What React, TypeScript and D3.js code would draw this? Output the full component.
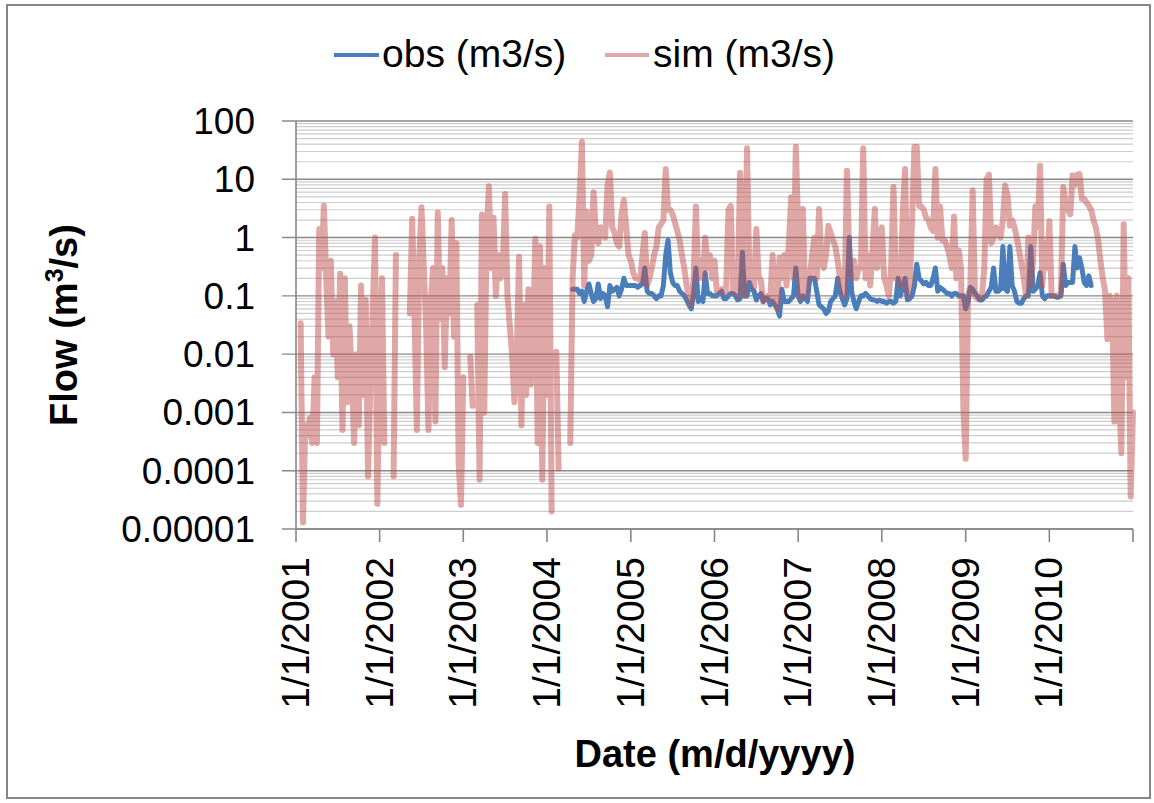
import React from "react";
import * as d3 from "d3";

const W = 1154;
const H = 803;

// Simulated flow (m3/s), 36 samples per year (≈10-day steps), null = no data
const sim2001: (number | null)[] = [null, null, 0.034, 0.000013, 0.0006, 0.0004, 0.0008, 0.0003, 0.004, 0.0003, 1.4, 0.3, 3.5, 0.2, 0.02, 0.4, 0.01, 0.08, 0.004, 0.24, 0.0005, 0.2, 0.0015, 0.03, 0.005, 0.0003, 0.01, 0.0006, 0.15, 0.002, 0.085, 0.00008, 0.003, 0.05, 1.0, 0.000027];
const sim2002: (number | null)[] = [0.01, 0.2, 0.0003, null, null, null, 0.00008, 0.5, null, null, null, null, null, 0.05, 2.1, 0.05, 0.0005, 0.4, 3.3, 0.3, 0.03, 0.0005, 0.08, 0.3, 0.0007, 2.7, 0.04, 0.3, 0.006, 0.2, 0.05, 2.0, 0.02, 0.8, 0.00013, 0.000026];
const sim2003: (number | null)[] = [0.004, null, null, 0.009, 0.0013, null, 0.07, 0.00007, 2.5, 0.001, 0.9, 7.6, 0.3, 2.2, 0.1, 0.5, 0.2, 0.3, 5.6, 0.1, 0.03, 0.01, 0.0015, 0.01, 0.47, 0.0006, 0.07, 0.002, 0.13, 0.003, 0.02, 0.95, 0.0003, 0.7, 0.00007, 0.3];
const sim2004: (number | null)[] = [0.002, 3.4, 0.00002, null, 0.011, 0.00011, null, null, null, null, 0.0003, 0.2, 1.1, 1.0, 5.3, 44, 0.15, 2.8, 0.4, 0.5, 6, 1.2, 0.8, 1.5, 1.3, 1.0, 8, 13, 1.5, 1.2, 0.8, 0.7, 2.5, 4.4, 1.5, 0.5];
const sim2005: (number | null)[] = [0.4, 0.25, 0.2, 0.2, 0.18, 0.5, 1.2, 0.15, 0.2, 0.3, 0.5, 0.7, 1.5, 1.7, 2, 15, 3, 3, 2.5, 1.8, 1.3, 0.9, 0.5, 0.3, 0.15, 0.09, 0.07, 0.2, 3.4, 0.2, 0.4, 0.2, 1.0, 0.3, 0.5, 0.2];
const sim2006: (number | null)[] = [0.4, 0.12, 0.12, 0.13, 0.11, 0.12, 3.0, 3.5, 0.12, 0.12, 0.1, 13, 0.5, 0.1, 34, 0.2, 0.25, 0.14, 1.4, 0.22, 0.18, 0.08, 0.09, 0.1, 0.09, 0.5, 0.08, 0.06, 0.45, 0.2, 0.5, 0.15, 0.8, 4.9, 0.2, 36];
const sim2007: (number | null)[] = [1.5, 0.09, 3.1, 0.1, 0.2, 0.2, 0.5, 1.0, 0.2, 3.1, 0.4, 0.3, 0.5, 1.6, 1.2, 0.9, 0.7, 0.4, 0.2, 0.12, 0.1, 14, 0.5, 0.2, 0.4, 0.2, 0.3, 0.3, 34, 0.2, 0.5, 0.15, 0.6, 3.1, 0.3, 0.8];
const sim2008: (number | null)[] = [1.5, 0.2, 0.15, 0.1, 0.3, 7.4, 0.2, 0.2, 0.15, 2.6, 15, 0.1, 0.15, 2.0, 36, 36, 3.5, 3.4, 3.0, 2.2, 2.0, 1.5, 1.3, 15, 1.0, 3.4, 0.9, 0.9, 0.7, 0.5, 0.3, 2.3, 0.2, 0.6, 0.3, 0.0012];
const sim2009: (number | null)[] = [0.00016, 0.1, 0.15, 6.5, 0.1, 0.09, 0.09, 0.1, 0.3, 10, 12, 0.8, 1.0, 1.5, 1.2, 1.0, 2.0, 7.8, 5.3, 1.6, 2.0, 1.5, 1.0, 0.6, 0.35, 0.2, 0.1, 1.0, 0.15, 0.4, 3.4, 1.5, 17, 0.15, 0.8, 0.3];
const sim2010: (number | null)[] = [1.9, 0.1, 0.1, 0.1, 0.1, 0.12, 7.4, 3.8, 3.0, 2.5, 11.7, 8, 12, 12.3, 4.6, 4.6, 4.0, 3.5, 3.0, 2.0, 1.5, 0.9, 0.4, 0.2, 0.12, 0.018, 0.1, 0.07, 0.0007, 0.1, 0.002, 0.0002, 1.7, 0.004, 0.2, 0.000036, 0.001];

// Observed flow (m3/s)
const obs2004: (number | null)[] = [null, null, null, null, null, null, null, null, null, null, null, 0.13, 0.13, 0.13, 0.11, 0.12, 0.08, 0.12, 0.16, 0.11, 0.08, 0.09, 0.16, 0.09, 0.11, 0.1, 0.065, 0.15, 0.12, 0.13, 0.14, 0.1, 0.13, 0.2, 0.15, 0.15];
const obs2005: (number | null)[] = [0.15, 0.15, 0.15, 0.14, 0.15, 0.16, 0.3, 0.12, 0.11, 0.11, 0.1, 0.09, 0.1, 0.1, 0.15, 0.5, 0.9, 0.25, 0.17, 0.15, 0.15, 0.12, 0.11, 0.1, 0.085, 0.07, 0.06, 0.11, 0.3, 0.08, 0.09, 0.08, 0.25, 0.11, 0.11, 0.1];
const obs2006: (number | null)[] = [0.1, 0.1, 0.11, 0.12, 0.09, 0.09, 0.1, 0.11, 0.11, 0.1, 0.085, 0.09, 0.56, 0.1, 0.1, 0.17, 0.13, 0.12, 0.085, 0.1, 0.11, 0.08, 0.09, 0.09, 0.07, 0.08, 0.07, 0.06, 0.045, 0.13, 0.08, 0.08, 0.08, 0.09, 0.1, 0.3];
const obs2007: (number | null)[] = [0.1, 0.08, 0.1, 0.09, 0.08, 0.2, 0.2, 0.2, 0.12, 0.07, 0.065, 0.06, 0.05, 0.055, 0.08, 0.09, 0.1, 0.2, 0.12, 0.09, 0.07, 0.09, 1.0, 0.12, 0.08, 0.06, 0.08, 0.1, 0.1, 0.11, 0.1, 0.09, 0.085, 0.085, 0.08, 0.085];
const obs2008: (number | null)[] = [0.08, 0.08, 0.075, 0.08, 0.08, 0.075, 0.08, 0.2, 0.1, 0.15, 0.2, 0.085, 0.09, 0.1, 0.15, 0.35, 0.2, 0.18, 0.16, 0.17, 0.15, 0.15, 0.2, 0.3, 0.12, 0.14, 0.13, 0.12, 0.11, 0.11, 0.1, 0.11, 0.11, 0.1, 0.1, 0.1];
const obs2009: (number | null)[] = [0.06, 0.08, 0.14, 0.13, 0.11, 0.1, 0.085, 0.085, 0.095, 0.1, 0.12, 0.14, 0.3, 0.12, 0.12, 0.13, 0.7, 0.13, 0.12, 0.7, 0.15, 0.12, 0.08, 0.075, 0.075, 0.09, 0.1, 0.1, 0.7, 0.12, 0.13, 0.15, 0.25, 0.1, 0.09, 0.1];
const obs2010: (number | null)[] = [0.1, 0.1, 0.1, 0.095, 0.095, 0.1, 0.35, 0.15, 0.17, 0.17, 0.17, 0.7, 0.3, 0.45, 0.3, 0.17, 0.15, 0.22, 0.15];

const simYears: [number, (number | null)[]][] = [
  [2001, sim2001], [2002, sim2002], [2003, sim2003], [2004, sim2004], [2005, sim2005],
  [2006, sim2006], [2007, sim2007], [2008, sim2008], [2009, sim2009], [2010, sim2010],
];
const obsYears: [number, (number | null)[]][] = [
  [2004, obs2004], [2005, obs2005], [2006, obs2006], [2007, obs2007],
  [2008, obs2008], [2009, obs2009], [2010, obs2010],
];

const yTickValues = [100, 10, 1, 0.1, 0.01, 0.001, 0.0001, 0.00001];
const yTickLabels = ["100", "10", "1", "0.1", "0.01", "0.001", "0.0001", "0.00001"];
const xTickYears = [2001, 2002, 2003, 2004, 2005, 2006, 2007, 2008, 2009, 2010, 2011];
const xTickLabels = ["1/1/2001", "1/1/2002", "1/1/2003", "1/1/2004", "1/1/2005", "1/1/2006", "1/1/2007", "1/1/2008", "1/1/2009", "1/1/2010"];

type P = { date: Date; v: number | null };

function toPoints(series: [number, (number | null)[]][]): P[] {
  const pts: P[] = [];
  series.forEach(([year, arr]) => {
    const start = new Date(year, 0, 1).getTime();
    const end = new Date(year + 1, 0, 1).getTime();
    arr.forEach((v, i) => {
      pts.push({ date: new Date(start + ((end - start) * i) / 36), v });
    });
  });
  return pts;
}

const FONT = "'Liberation Sans', Arial, sans-serif";

export default function App() {
  const left = 296, right = 1133, top = 121, bottom = 529;
  const x = d3.scaleTime().domain([new Date(2001, 0, 1), new Date(2011, 0, 1)]).range([left, right]);
  const y = d3.scaleLog().domain([0.00001, 100]).range([bottom, top]);

  const line = d3
    .line<P>()
    .defined((p) => p.v != null && (p.v as number) > 0)
    .x((p) => x(p.date))
    .y((p) => y(p.v as number));

  const simPath = line(toPoints(simYears)) || "";
  const obsPath = line(toPoints(obsYears)) || "";

  const minor: number[] = [];
  for (let e = -5; e < 2; e++) {
    for (let m = 2; m <= 9; m++) minor.push(m * Math.pow(10, e));
  }

  return (
    <svg width={W} height={H} style={{ position: "absolute", left: 0, top: 0, background: "#fff" }} fontFamily={FONT}>
      <rect x={0} y={0} width={W} height={H} fill="#fff" />
      <rect x={7} y={5} width={1143} height={793} fill="none" stroke="#868686" strokeWidth={2} />
      <defs>
        <clipPath id="plot">
          <rect x={left} y={top - 2} width={right - left + 3} height={bottom - top + 4} />
        </clipPath>
      </defs>
      {minor.map((v, i) => (
        <line key={"mi" + i} x1={left} x2={right} y1={y(v)} y2={y(v)} stroke="#cdcdcd" strokeWidth={1.2} />
      ))}
      {yTickValues.map((v, i) => (
        <line key={"ma" + i} x1={left - 14} x2={right} y1={y(v)} y2={y(v)} stroke="#8a8a8a" strokeWidth={1.4} />
      ))}
      <line x1={left} x2={left} y1={top} y2={bottom} stroke="#868686" strokeWidth={1.6} />
      <line x1={left} x2={right} y1={bottom} y2={bottom} stroke="#868686" strokeWidth={1.6} />
      {xTickYears.map((yr) => (
        <line key={"xt" + yr} x1={x(new Date(yr, 0, 1))} x2={x(new Date(yr, 0, 1))} y1={bottom} y2={bottom + 13} stroke="#868686" strokeWidth={1.6} />
      ))}
      <g clipPath="url(#plot)">
        <path d={obsPath} fill="none" stroke="#4A7EBB" strokeWidth={5} strokeLinejoin="round" strokeLinecap="round" />
        <path d={simPath} fill="none" stroke="#C0504D" strokeOpacity={0.5} strokeWidth={6} strokeLinejoin="round" strokeLinecap="round" />
      </g>
      {yTickValues.map((v, i) => (
        <text key={"yl" + i} x={255} y={y(v) + 13} textAnchor="end" fontSize={37} fill="#000">
          {yTickLabels[i]}
        </text>
      ))}
      {xTickLabels.map((lab, i) => (
        <text
          key={"xl" + i}
          transform={`translate(${x(new Date(xTickYears[i], 0, 1)) + 13},557) rotate(-90)`}
          textAnchor="end"
          fontSize={39}
          fill="#000"
        >
          {lab}
        </text>
      ))}
      <text transform="translate(77,325) rotate(-90)" textAnchor="middle" fontSize={38} fontWeight="bold" fill="#000">
        <tspan>Flow (m</tspan>
        <tspan dy={-14} fontSize={25}>3</tspan>
        <tspan dy={14}>/s)</tspan>
      </text>
      <text x={715} y={767} textAnchor="middle" fontSize={38} fontWeight="bold" fill="#000">
        Date (m/d/yyyy)
      </text>
      <line x1={334} x2={379} y1={55} y2={55} stroke="#4A7EBB" strokeWidth={4} />
      <text x={382} y={67} fontSize={39} fill="#000">obs (m3/s)</text>
      <line x1={605} x2={649} y1={55} y2={55} stroke="#C0504D" strokeOpacity={0.5} strokeWidth={4} />
      <text x={653} y={67} fontSize={39} fill="#000">sim (m3/s)</text>
    </svg>
  );
}
